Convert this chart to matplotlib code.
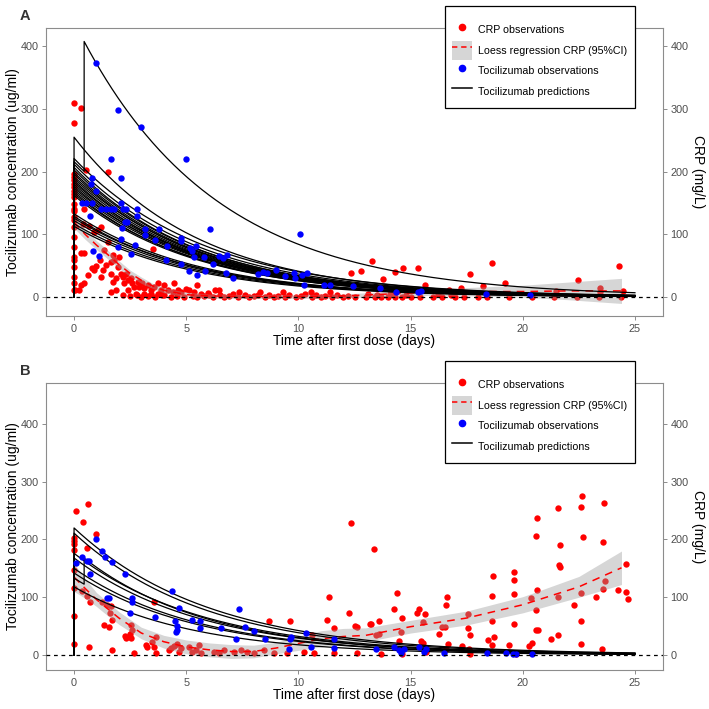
import numpy as np
import matplotlib
matplotlib.use("Agg")
import matplotlib.pyplot as plt
from matplotlib.lines import Line2D
from matplotlib.patches import Patch

plt.rcParams['font.family'] = ['Liberation Sans', 'DejaVu Sans']

# ---- panel A data ----
a_crp = [(0, 310), (0, 278), (0, 197), (0, 191), (0, 186), (0, 181), (0, 175), (0, 170),
         (0, 165), (0, 160), (0, 149), (0, 141), (0, 138), (0, 128), (0, 123), (0, 112),
         (0, 96), (0, 80), (0, 64), (0, 59), (0, 48), (0, 32), (0, 22), (0, 11), (0.05, 12),
         (0.33, 301), (0.53, 202), (1.5, 200), (0.46, 140), (0.4, 117), (0.68, 113), (0.9, 104),
         (1.05, 107), (0.46, 70), (0.3, 70), (0.79, 46), (0.9, 43), (1.0, 49), (1.17, 59),
         (1.2, 32), (1.27, 43), (1.35, 75), (1.43, 51), (1.65, 56), (1.72, 67), (1.79, 59),
         (1.94, 48), (2.0, 64), (1.87, 30), (1.65, 37), (1.72, 24), (2.1, 37), (2.17, 32),
         (2.24, 22), (2.3, 37), (2.39, 27), (2.54, 30), (2.6, 22), (2.68, 17), (2.83, 24),
         (2.9, 17), (3.05, 22), (3.13, 14), (3.28, 19), (3.43, 11), (3.5, 77), (3.58, 17),
         (3.73, 22), (3.88, 11), (4.03, 19), (4.17, 11), (4.4, 8), (4.47, 22), (4.63, 11),
         (4.78, 8), (5.0, 13), (5.13, 11), (5.36, 8), (5.5, 19), (5.65, 5), (5.95, 6),
         (0.31, 19), (0.61, 35), (1.65, 8), (1.87, 11), (2.39, 11), (2.76, 5), (3.13, 5),
         (3.43, 5), (3.73, 5), (4.03, 4), (0.45, 22), (0.2, 12), (1.19, 112), (1.5, 88),
         (6.3, 12), (6.47, 11), (7.36, 8), (8.3, 8), (9.3, 8), (10.55, 8), (11.4, 8),
         (12.33, 39), (12.8, 42),
         (5.8, 2), (6.0, 4), (6.2, 1), (6.5, 3), (6.7, 0), (6.9, 2), (7.1, 5), (7.3, 1),
         (7.6, 3), (7.8, 0), (8.0, 2), (8.2, 4), (8.5, 1), (8.7, 3), (8.9, 0), (9.1, 2),
         (9.4, 1), (9.6, 4), (9.9, 0), (10.1, 2), (10.3, 5), (10.6, 1), (10.8, 3), (11.0, 0),
         (11.2, 2), (11.5, 1), (11.7, 4), (12.0, 0), (12.2, 2), (12.5, 1), (5.3, 2), (5.5, 0),
         (4.9, 1), (4.6, 2), (4.3, 0), (3.9, 3), (3.6, 1), (3.3, 2), (3.0, 1), (2.8, 3),
         (2.5, 2), (2.2, 4),
         (13.3, 58), (13.79, 29), (14.32, 40), (14.65, 47), (15.33, 47), (15.64, 19),
         (16.7, 11), (17.23, 14), (17.65, 37), (18.24, 18), (18.65, 54), (19.23, 23),
         (21.46, 10), (22.44, 27), (23.45, 14), (23.45, 9), (24.3, 50), (24.47, 10),
         (13.0, 0), (13.4, 1), (13.7, 0), (14.0, 1), (14.3, 0), (14.6, 1), (15.0, 0),
         (15.4, 1), (16.0, 0), (16.4, 0), (17.0, 0), (17.4, 1), (18.0, 0), (18.4, 0),
         (19.4, 0), (20.4, 0), (21.4, 0), (22.4, 0), (23.4, 0), (24.4, 0), (13.1, 5),
         (13.5, 4), (14.1, 5), (14.8, 4), (16.2, 5), (16.8, 4)]

a_toci = [(1.0, 373), (1.96, 298), (2.97, 271), (5.0, 220), (1.63, 220), (2.08, 190),
          (0.79, 190), (0.77, 180), (0.96, 169), (0.37, 150), (0.52, 150), (0.79, 150),
          (1.19, 140), (1.41, 140), (1.63, 140), (1.78, 140), (2.1, 150), (2.2, 140),
          (2.33, 140), (2.8, 140), (0.71, 130), (2.8, 130), (2.26, 120), (2.37, 120),
          (2.12, 110), (3.16, 109), (3.78, 109), (6.08, 109), (3.15, 99), (2.11, 93),
          (3.63, 91), (4.75, 94), (4.75, 89), (4.15, 82), (2.71, 83), (1.96, 80), (0.86, 74),
          (1.13, 66), (2.52, 69), (5.19, 78), (5.27, 74), (5.42, 82), (5.34, 64), (5.79, 64),
          (6.45, 66), (6.65, 63), (6.8, 67), (4.08, 59), (6.19, 53), (4.75, 53), (5.12, 42),
          (5.46, 35), (5.83, 42), (6.78, 38), (7.08, 31), (8.19, 37), (8.41, 40), (8.6, 38),
          (8.98, 44), (9.39, 33), (9.79, 39), (9.87, 30), (10.06, 100), (10.16, 35),
          (10.27, 20), (10.39, 38), (11.16, 20), (11.42, 20), (12.42, 18), (13.64, 15),
          (14.34, 8), (15.33, 8), (15.45, 10), (18.35, 5), (20.3, 3)]

# loess fit of CRP (with 95% CI)
a_loess_t = [0, 0.5, 1, 1.5, 2, 2.5, 3, 3.5, 4, 5, 6, 8, 10, 12, 14, 16, 18, 20, 22, 24.4]
a_loess_fit = [120, 100, 83, 68, 52, 38, 27, 18, 11, 4, 2, 1, 1, 2, 5, 8, 9, 9, 10, 10]
a_loess_lo = [110, 92, 76, 61, 46, 33, 22, 14, 7, 0, -2, -2, -2, -1, 1, 3, 2, 0, -4, -10]
a_loess_hi = [132, 108, 90, 75, 58, 43, 32, 22, 15, 8, 5, 4, 4, 5, 9, 13, 16, 19, 24, 30]

# individual tocilizumab predictions: peak after first dose and elimination rate
a_peak = [255, 221, 212, 207, 203, 199, 196, 192, 189, 186, 183, 180, 177, 174, 171, 168,
          165, 162, 133, 129, 126, 122, 117, 113]
a_ke = [0.182, 0.17, 0.175, 0.18, 0.178, 0.18, 0.182, 0.176, 0.18, 0.185, 0.178, 0.18,
        0.183, 0.177, 0.18, 0.185, 0.18, 0.182, 0.18, 0.183, 0.178, 0.18, 0.182, 0.185]
# patient with a second dose
a_redose = dict(peak=216, t2=0.45, add=207, ke=0.165)

# ---- panel B data ----
b_crp = [(0, 202), (0, 197), (0, 182), (0, 147), (0, 116), (0, 68), (0, 19), (0, 193),
         (0.09, 250), (0.42, 231), (0.62, 262), (1.0, 210), (0.59, 185), (0.71, 91),
         (0.67, 13), (0.37, 110), (0.56, 102), (1.26, 92), (1.34, 52), (1.56, 48), (1.59, 73),
         (1.7, 60), (1.68, 9), (1.48, 87), (1.63, 84), (2.26, 33), (2.3, 29), (2.49, 36),
         (2.55, 29), (2.6, 43), (2.52, 52), (2.67, 4), (3.22, 17), (3.26, 14), (3.49, 23),
         (3.56, 14), (3.56, 92), (3.64, 32), (3.66, 3), (4.23, 8), (4.33, 12), (4.45, 16),
         (4.57, 19), (4.67, 6), (4.75, 12), (5.12, 14), (5.27, 6), (5.42, 9), (5.56, 17),
         (5.64, 3), (6.23, 6), (6.45, 3), (6.68, 9), (7.12, 6), (7.42, 9), (7.72, 6),
         (8.01, 3), (8.46, 9), (8.68, 58), (8.9, 3), (9.5, 3), (9.64, 58), (10.24, 6),
         (10.6, 35), (10.68, 3), (11.26, 61), (11.37, 101), (11.59, 47), (11.57, 3),
         (12.26, 72), (12.36, 229), (12.51, 50), (12.6, 49), (12.6, 3), (13.2, 53),
         (13.37, 183), (13.25, 54), (13.6, 59), (13.45, 35), (13.6, 37), (13.67, 1),
         (14.26, 79), (14.38, 108), (14.62, 64), (14.56, 40), (14.49, 25), (14.6, 2),
         (14.6, 8), (15.27, 73), (15.39, 80), (15.63, 71), (15.56, 57), (15.45, 25),
         (15.56, 21), (15.67, 5), (16.28, 37), (16.4, 49), (16.55, 48), (16.56, 86),
         (16.62, 100), (16.68, 19), (16.6, 11), (17.27, 16), (17.55, 71), (17.55, 46),
         (17.67, 34), (17.61, 10), (17.67, 2), (18.45, 26), (18.65, 59), (18.65, 103),
         (18.68, 137), (18.7, 32), (18.65, 17), (19.4, 18), (19.6, 54), (19.6, 105),
         (19.62, 130), (19.62, 143), (19.7, 1), (20.38, 99), (20.58, 78), (20.65, 112),
         (20.58, 206), (20.62, 237), (20.58, 43), (20.66, 43), (20.39, 20), (20.27, 15),
         (21.27, 27), (21.57, 34), (21.57, 100), (21.63, 156), (21.66, 153), (21.67, 190),
         (21.57, 255), (22.28, 87), (22.58, 19), (22.58, 58), (22.58, 108), (22.58, 257),
         (22.66, 275), (22.7, 204), (23.26, 100), (23.58, 114), (23.67, 128), (23.58, 195),
         (23.64, 263), (23.55, 11), (24.25, 112), (24.58, 157), (24.61, 109), (24.67, 97)]

b_toci = [(1.0, 200), (0.1, 160), (0.37, 170), (0.56, 162), (0.67, 162), (0.7, 140),
          (1.26, 180), (1.36, 170), (1.68, 161), (2.27, 140), (1.48, 99), (1.56, 99),
          (2.6, 99), (2.6, 92), (2.49, 73), (3.6, 65), (4.36, 110), (4.69, 82), (4.48, 58),
          (4.57, 50), (4.57, 43), (4.54, 39), (5.27, 61), (5.61, 59), (5.61, 46), (6.53, 46),
          (7.24, 28), (7.37, 79), (7.61, 48), (8.01, 42), (8.5, 28), (9.57, 10), (9.61, 27),
          (9.67, 32), (10.36, 38), (10.58, 13), (11.57, 27), (11.57, 12), (13.47, 10),
          (14.26, 14), (14.48, 9), (14.58, 3), (14.7, 10), (15.37, 13), (15.6, 6), (15.7, 10),
          (16.5, 3), (18.39, 3), (19.26, 4), (19.57, 1), (19.68, 1), (20.41, 1)]

b_loess_t = [0, 0.5, 1, 1.5, 2, 3, 4, 5, 6, 7, 8, 9, 10, 11, 12, 13, 15, 17.5, 20, 22.5, 24.4]
b_loess_fit = [135, 115, 96, 80, 64, 38, 23, 14, 9, 6, 6, 12, 20, 28, 32, 34, 49, 64, 87, 118, 151]
b_loess_lo = [110, 98, 84, 68, 53, 28, 12, 2, -3, -6, -5, 2, 8, 14, 20, 23, 38, 52, 73, 100, 122]
b_loess_hi = [158, 132, 108, 92, 75, 48, 34, 26, 21, 18, 17, 22, 32, 42, 46, 47, 60, 76, 101, 136, 180]

b_peak = [220, 211, 176, 168, 150, 142, 118]
b_ke = [0.165, 0.17, 0.17, 0.175, 0.18, 0.18, 0.19]
b_redose = dict(peak=133, t2=0.45, add=45, ke=0.18)

tgrid = np.linspace(0, 25, 400)
GREY_TXT = '#4d4d4d'
FRAME = '#8c8c8c'


def pk_curve(peak, ke, t2=None, add=0):
    t = tgrid
    c = peak * np.exp(-ke * t)
    if t2 is None:
        return np.r_[0, t], np.r_[0, c]
    before = t < t2
    tt = np.r_[0, t[before], t2, t2, t[~before]]
    c2 = peak * np.exp(-ke * t2)
    cc = np.r_[0, c[before], c2, c2 + add,
               c[~before] + add * np.exp(-ke * (t[~before] - t2))]
    return tt, cc


def draw_panel(ax, crp, toci, lt, lfit, llo, lhi, peaks, kes, redose, ylim):
    ct, cv = zip(*crp)
    ax.scatter(ct, cv, s=21, color='#ff0000', linewidths=0, zorder=2)
    ax.fill_between(lt, llo, lhi, color='#999999', alpha=0.4, linewidth=0, zorder=3)
    ax.plot(lt, lfit, color='#ff0000', lw=1.1, ls=(0, (5, 4)), zorder=4)
    for p, k in zip(peaks, kes):
        tt, cc = pk_curve(p, k)
        ax.plot(tt, cc, color='black', lw=0.9, zorder=5)
    tt, cc = pk_curve(redose['peak'], redose['ke'], redose['t2'], redose['add'])
    ax.plot(tt, cc, color='black', lw=0.9, zorder=5)
    bt, bv = zip(*toci)
    ax.scatter(bt, bv, s=21, color='#0000ff', linewidths=0, zorder=6)
    ax.axhline(0, color='black', lw=0.9, ls=(0, (3, 3)), zorder=7)

    ax.set_xlim(-1.25, 26.25)
    ax.set_ylim(*ylim)
    ax.set_xticks([0, 5, 10, 15, 20, 25])
    ax.set_yticks([0, 100, 200, 300, 400])
    ax.tick_params(axis='both', colors=FRAME, labelcolor=GREY_TXT, labelsize=7.8,
                   length=3, width=0.7, pad=2.5, right=True, labelright=True)
    for s in ax.spines.values():
        s.set_color(FRAME)
        s.set_linewidth(0.8)


fig = plt.figure(figsize=(7.09, 7.09), dpi=100)
W = 709.0
axA = fig.add_axes([46 / W, 1 - 316 / W, (663 - 46) / W, (316 - 28) / W])
axB = fig.add_axes([46 / W, 1 - 670 / W, (663 - 46) / W, (670 - 383) / W])

draw_panel(axA, a_crp, a_toci, a_loess_t, a_loess_fit, a_loess_lo, a_loess_hi,
           a_peak, a_ke, a_redose, (-30, 429))
draw_panel(axB, b_crp, b_toci, b_loess_t, b_loess_fit, b_loess_lo, b_loess_hi,
           b_peak, b_ke, b_redose, (-26, 471))

for ytop, ybot, letter in [(28, 316, 'A'), (383, 670, 'B')]:
    yc = 1 - (ytop + ybot) / 2 / W
    fig.text(13 / W, yc, 'Tocilizumab concentration (ug/ml)', rotation=90,
             ha='center', va='center', fontsize=10)
    fig.text(698 / W, yc, 'CRP (mg/L)', rotation=270, ha='center', va='center', fontsize=10)
    fig.text(354.5 / W, 1 - (ybot + 25) / W, 'Time after first dose (days)',
             ha='center', va='center', fontsize=9.8)
    fig.text(20 / W, 1 - (ytop - 12) / W, letter, ha='left', va='center',
             fontsize=10.5, fontweight='bold', color='#333333')

handles = [
    Line2D([], [], ls='none', marker='o', color='#ff0000', markersize=4.5),
    (Patch(facecolor='#d6d6d6', edgecolor='none'),
     Line2D([], [], color='#ff0000', lw=1.1, ls=(0, (3.5, 2.5)))),
    Line2D([], [], ls='none', marker='o', color='#0000ff', markersize=4.5),
    Line2D([], [], color='black', lw=1.1),
]
labels = ['CRP observations', 'Loess regression CRP (95%CI)',
          'Tocilizumab observations', 'Tocilizumab predictions']

for top in [6, 361]:
    leg = fig.legend(handles, labels, loc='upper left',
                     bbox_to_anchor=(445 / W, 1 - top / W), bbox_transform=fig.transFigure,
                     fontsize=7.7, frameon=True, fancybox=False, edgecolor='black',
                     framealpha=1, handlelength=1.87, handleheight=2.3, handletextpad=0.56,
                     labelspacing=0.18, borderpad=0.7, borderaxespad=0,
                     title=' ', title_fontsize=4)
    leg.get_frame().set_linewidth(0.9)

fig.savefig('out.png', dpi=100)
